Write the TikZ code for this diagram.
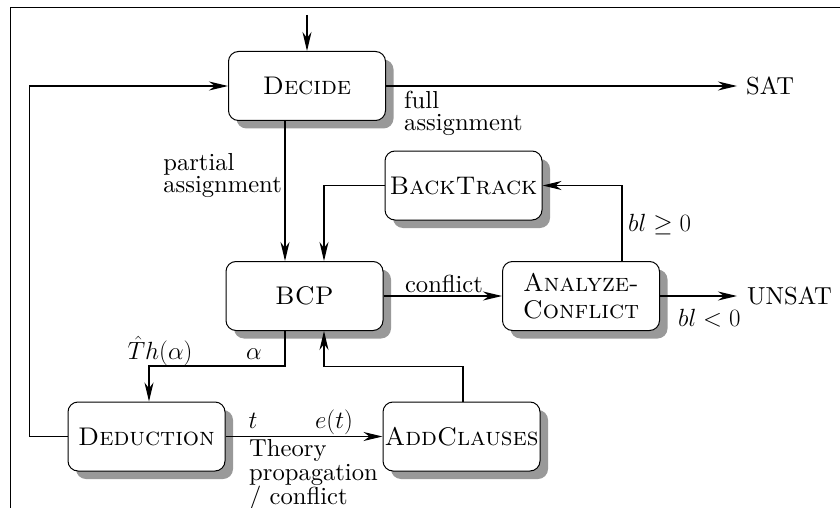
\documentclass[tikz,border=0pt]{standalone}
\usepackage{fontspec}
\setmainfont{lmroman10-regular.otf}[ItalicFont=lmroman10-italic.otf, BoldFont=lmroman10-bold.otf, SmallCapsFont=lmromancaps10-regular.otf]
\usetikzlibrary{arrows.meta,shadows}
\tikzset{
  box/.style={draw, line width=1pt, rounded corners=10pt, fill=white,
    minimum width=157pt, minimum height=69pt, inner sep=0pt, align=center,
    font={\fontsize{25.5}{27}\selectfont\scshape},
    drop shadow={shadow xshift=8pt, shadow yshift=-8pt, fill=black!40, opacity=1}},
  conn/.style={line width=1.1pt, -{Stealth[length=19pt,width=9pt,inset=6pt]}},
  lbl/.style={inner sep=0pt, align=left},
  frame/.style={line width=1pt}
}
\begin{document}
\fontsize{24.6}{22}\selectfont
\begin{tikzpicture}[x=1pt,y=-1pt]
\useasboundingbox (0,0) rectangle (840,508);
\coordinate (fa) at (10,508);
\coordinate (fb) at (10,8);
\coordinate (fc) at (840,8);
\draw[frame] (fa) -- (fb) -- (fc);

\node[box] (dec) at (307,86) {Decide};
\node[box] (bt) at (463.5,185.5) {BackTrack};
\node[box] (bcp) at (304.5,296) {BCP};
\node[box] (ac) at (581,296) {Analyze-\\Conflict};
\node[box] (ded) at (146.5,436.5) {Deduction};
\node[box] (add) at (461.5,436.5) {AddClauses};

\node[lbl, anchor=west] (sat) at (746,86) {SAT};
\node[lbl, anchor=west] (unsat) at (747,296) {UNSAT};

\coordinate (entry) at (307,15);
\draw[conn] (entry) -- (dec.north);
\draw[conn] (ded.west) -- ++(-38,0) |- (dec.west);
\draw[conn, shorten >=9pt] (dec.east) -- (sat.west);
\draw[conn] ([xshift=-22pt]dec.south) -- ([xshift=-22pt]dec.south |- bcp.north);
\draw[conn] (bt.west) -| ([xshift=19.5pt]bcp.north);
\draw[conn] ([xshift=41pt]ac.north) |- (bt.east);
\draw[conn] (bcp.east) -- (ac.west);
\draw[conn, shorten >=10pt] (ac.east) -- (unsat.west);
\draw[conn] ([xshift=-19.5pt]bcp.south) -- ++(0,35) -| ([xshift=2.5pt]ded.north);
\draw[conn] ([xshift=1.5pt]add.north) -- ++(0,-35) -| ([xshift=19.5pt]bcp.south);
\draw[conn] (ded.east) -- (add.west);

\node[lbl, anchor=north west] (lfull) at (404,91) {full\\assignment};
\node[lbl, anchor=east] (lpart) at (282,175) {partial\\assignment};
\node[lbl] (lconf) at (444,284) {conflict};
\node[lbl, anchor=west] (lge) at (628,225) {$bl \geq 0$};
\node[lbl, anchor=west] (llt) at (678,318) {$bl < 0$};
\node[lbl] (lth) at (160,351) {$\hat{T}h(\alpha)$};
\node[lbl] (lal) at (254,354) {$\alpha$};
\node[lbl] (lt) at (253,421) {$t$};
\node[lbl] (let) at (334,422) {$e(t)$};
\node[lbl, anchor=north west, font={\fontsize{24.6}{24}\selectfont}] (ltp) at (249,439) {Theory\\propagation\\/ conflict};
\end{tikzpicture}
\end{document}
